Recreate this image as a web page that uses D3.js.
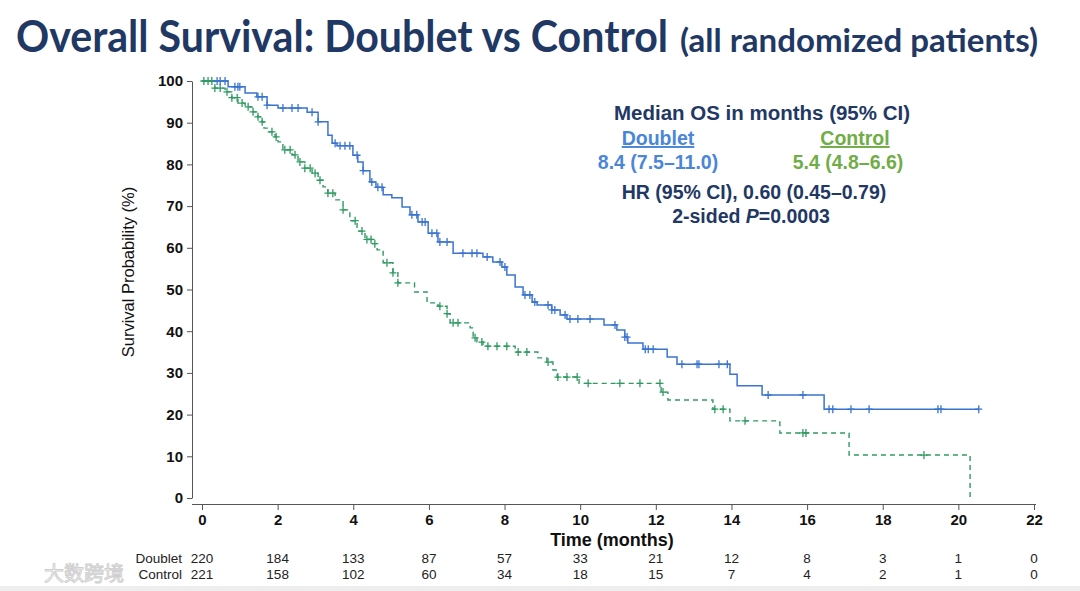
<!DOCTYPE html>
<html>
<head>
<meta charset="utf-8">
<script src="https://cdn.jsdelivr.net/npm/d3@7"></script>
<style>
  body { margin: 0; background: #fff; }
  svg { display: block; }
  .tick text { font-family: "Liberation Sans", Arial, sans-serif; font-weight: bold; font-size: 15px; fill: #111; }
  .tick line, .domain { stroke: #555; }
</style>
</head>
<body>
<svg id="km" width="1080" height="591"></svg>
<script>
// step points: time (months), survival (%) after the drop
var doubletTimes = [0.69, 1.14, 1.45, 1.72, 2.01, 2.78, 3.07, 3.33, 3.44, 3.57, 3.99, 4.12, 4.26, 4.44, 4.6, 4.79, 5.02, 5.29, 5.5, 5.71, 5.98, 6.24, 6.64, 7.43, 7.69, 7.93, 8.06, 8.28, 8.49, 8.73, 8.86, 9.25, 9.47, 9.65, 10.63, 10.97, 11.18, 11.26, 11.66, 12.3, 12.56, 13.96, 14.15, 14.81, 16.45]
var doubletSurv = [98.6, 97.1, 96.2, 94.2, 93.5, 92.5, 90.2, 87.0, 85.1, 84.5, 82.2, 80.6, 78.5, 75.8, 74.5, 72.7, 72.0, 69.8, 67.9, 66.2, 63.5, 61.4, 58.7, 57.8, 56.6, 55.4, 53.5, 50.6, 48.7, 47.0, 46.3, 45.1, 43.9, 42.9, 41.5, 40.3, 38.6, 37.2, 35.7, 33.8, 32.1, 29.7, 26.9, 24.7, 21.3]
var doubletEnd = 20.54
var doubletCensor = [0.40, 0.48, 0.61, 0.87, 0.95, 1.00, 1.48, 1.59, 1.72, 2.14, 2.38, 2.54, 2.91, 3.07, 3.52, 3.65, 3.78, 3.91, 4.10, 4.26, 4.49, 4.65, 4.76, 5.55, 5.68, 5.82, 5.90, 6.08, 6.21, 6.29, 6.48, 6.90, 7.14, 7.27, 7.54, 7.88, 8.01, 8.54, 8.67, 8.80, 9.15, 9.25, 9.33, 9.60, 9.73, 9.94, 10.26, 10.92, 11.18, 11.24, 11.72, 11.80, 11.93, 12.69, 13.09, 13.14, 13.67, 13.89, 14.97, 15.89, 16.58, 16.68, 17.16, 17.64, 19.46, 19.54, 20.54]

var controlTimes = [0.34, 0.61, 0.79, 0.95, 1.14, 1.32, 1.48, 1.59, 1.64, 1.75, 1.93, 2.01, 2.14, 2.38, 2.54, 2.72, 2.91, 3.07, 3.2, 3.33, 3.52, 3.73, 3.91, 4.1, 4.31, 4.49, 4.63, 4.79, 5.05, 5.18, 5.62, 5.95, 6.24, 6.48, 6.56, 7.09, 7.17, 7.27, 7.43, 8.28, 8.88, 9.12, 9.28, 9.39, 9.97, 12.14, 12.32, 13.51, 13.96, 15.28, 17.11, 20.31]
var controlSurv = [98.3, 97.4, 96.0, 94.7, 93.8, 92.6, 91.4, 90.2, 88.7, 87.8, 86.6, 85.4, 83.5, 82.3, 80.6, 79.1, 77.9, 76.2, 74.6, 73.1, 71.5, 69.1, 66.5, 64.0, 62.0, 61.0, 59.5, 56.4, 54.0, 51.6, 49.4, 46.8, 46.0, 44.2, 42.0, 40.8, 38.4, 37.4, 36.4, 35.0, 33.6, 32.6, 30.7, 29.0, 27.5, 25.4, 23.5, 21.3, 18.5, 15.6, 10.3, 0]
var controlEnd = 20.31
var controlCensor = [0.05, 0.16, 0.26, 0.34, 0.48, 0.66, 0.79, 0.93, 1.06, 1.22, 1.35, 1.48, 1.59, 1.85, 1.96, 2.19, 2.33, 2.46, 2.59, 2.72, 2.86, 2.99, 3.12, 3.33, 3.46, 3.73, 4.05, 4.23, 4.36, 4.47, 4.57, 4.89, 5.05, 5.18, 6.29, 6.48, 6.64, 6.77, 7.22, 7.40, 7.56, 7.80, 8.06, 8.36, 8.59, 9.15, 9.41, 9.65, 9.92, 10.21, 11.05, 11.58, 12.11, 12.19, 13.56, 13.78, 14.36, 15.89, 15.97, 19.09]

var xTicks = [0, 2, 4, 6, 8, 10, 12, 14, 16, 18, 20, 22]
var yTicks = [0, 10, 20, 30, 40, 50, 60, 70, 80, 90, 100]
var riskDoublet = [220, 184, 133, 87, 57, 33, 21, 12, 8, 3, 1, 0]
var riskControl = [221, 158, 102, 60, 34, 18, 15, 7, 4, 2, 1, 0]

var blue = "#3a74d0"
var green = "#2f9a62"
var navy = "#1f3864"

var svg = d3.select("#km")

var xScale = d3.scaleLinear().domain([0, 22]).range([202, 1034])
var yScale = d3.scaleLinear().domain([0, 100]).range([498, 81])

// title
var title = svg.append("text")
  .attr("x", 16).attr("y", 52)
  .style("font-family", "Lato, 'Open Sans', sans-serif")
  .style("font-weight", "bold")
  .style("fill", navy)
title.append("tspan")
  .style("font-size", "44px")
  .attr("textLength", 652).attr("lengthAdjust", "spacingAndGlyphs")
  .text("Overall Survival: Doublet vs Control")
title.append("tspan")
  .attr("x", 680)
  .style("font-size", "32px")
  .attr("textLength", 358).attr("lengthAdjust", "spacingAndGlyphs")
  .text("(all randomized patients)")

// axes
var yAxisGen = d3.axisLeft(yScale).tickValues(yTicks).tickSize(5).tickSizeOuter(0).tickPadding(4)
svg.append("g")
  .attr("transform", "translate(192,0)")
  .call(yAxisGen)

var xAxisGen = d3.axisBottom(xScale).tickValues(xTicks).tickSize(6).tickSizeOuter(0).tickPadding(4)
var xAxis = svg.append("g")
  .attr("transform", "translate(0,504)")
  .call(xAxisGen)
xAxis.select(".domain").attr("d", "M192,0.5H1036")

svg.append("text")
  .attr("transform", "translate(134,272) rotate(-90)")
  .attr("text-anchor", "middle")
  .style("font-family", "'Liberation Sans', Arial, sans-serif")
  .style("font-size", "16.5px")
  .style("fill", "#111")
  .text("Survival Probability (%)")

svg.append("text")
  .attr("x", 612).attr("y", 546)
  .attr("text-anchor", "middle")
  .style("font-family", "'Liberation Sans', Arial, sans-serif")
  .style("font-weight", "bold")
  .style("font-size", "18px")
  .style("fill", "#111")
  .text("Time (months)")

// curves
function stepPoints(times, surv, end) {
  var pts = [[0, 100]]
  times.forEach((t, i) => pts.push([t, surv[i]]))
  pts.push([end, surv[surv.length - 1]])
  return pts
}
function survAt(times, surv, t) {
  var s = 100
  for (var i = 0; i < times.length; i++) { if (times[i] <= t) s = surv[i] }
  return s
}

var line = d3.line()
  .x(d => xScale(d[0]))
  .y(d => yScale(d[1]))
  .curve(d3.curveStepAfter)

svg.append("path")
  .datum(stepPoints(controlTimes, controlSurv, controlEnd))
  .attr("d", line)
  .attr("fill", "none")
  .attr("stroke", green)
  .attr("stroke-width", 1.4)
  .attr("stroke-dasharray", "5,4")

svg.append("path")
  .datum(stepPoints(doubletTimes, doubletSurv, doubletEnd))
  .attr("d", line)
  .attr("fill", "none")
  .attr("stroke", blue)
  .attr("stroke-width", 1.5)

function drawCensor(list, times, surv, color) {
  svg.append("g")
    .selectAll("path")
    .data(list)
    .enter().append("path")
    .attr("transform", d => "translate(" + xScale(d) + "," + yScale(survAt(times, surv, d)) + ")")
    .attr("d", "M0,-4V4M-3.5,0H3.5")
    .attr("stroke", color)
    .attr("stroke-width", 1.3)
}
drawCensor(controlCensor, controlTimes, controlSurv, green)
drawCensor(doubletCensor, doubletTimes, doubletSurv, blue)

// legend text
var legend = svg.append("g")
  .style("font-family", "'Liberation Sans', Arial, sans-serif")
  .style("font-weight", "bold")
  .style("font-size", "19.5px")
  .attr("text-anchor", "middle")
legend.append("text").attr("x", 762).attr("y", 120).style("fill", navy)
  .attr("textLength", 296).attr("lengthAdjust", "spacingAndGlyphs")
  .text("Median OS in months (95% CI)")
legend.append("text").attr("x", 658).attr("y", 145).style("fill", "#4a86d8")
  .style("text-decoration", "underline").text("Doublet")
legend.append("text").attr("x", 855).attr("y", 145).style("fill", "#70ad47")
  .style("text-decoration", "underline").text("Control")
legend.append("text").attr("x", 658).attr("y", 169).style("fill", "#4a86d8").text("8.4 (7.5\u201311.0)")
legend.append("text").attr("x", 848).attr("y", 169).style("fill", "#70ad47").text("5.4 (4.8\u20136.6)")
legend.append("text").attr("x", 754).attr("y", 199).style("fill", navy).text("HR (95% CI), 0.60 (0.45\u20130.79)")
var pText = legend.append("text").attr("x", 751).attr("y", 223).style("fill", navy)
pText.append("tspan").text("2-sided ")
pText.append("tspan").style("font-style", "italic").text("P")
pText.append("tspan").text("=0.0003")

// number at risk
var risk = svg.append("g")
  .style("font-family", "'Liberation Sans Narrow', 'Liberation Sans', Arial, sans-serif")
  .style("font-size", "13.5px")
  .style("fill", "#222")
risk.append("text").attr("x", 182).attr("y", 563).attr("text-anchor", "end").text("Doublet")
risk.append("text").attr("x", 182).attr("y", 579).attr("text-anchor", "end").text("Control")
risk.selectAll(".rd").data(riskDoublet).enter().append("text")
  .attr("x", (d, i) => xScale(xTicks[i])).attr("y", 563).attr("text-anchor", "middle").text(d => d)
risk.selectAll(".rc").data(riskControl).enter().append("text")
  .attr("x", (d, i) => xScale(xTicks[i])).attr("y", 579).attr("text-anchor", "middle").text(d => d)

// watermark
svg.append("text")
  .attr("x", 44).attr("y", 581)
  .style("font-family", "'Noto Sans CJK SC', sans-serif")
  .style("font-size", "20px")
  .style("fill", "none")
  .style("stroke", "#cfcfcf")
  .style("stroke-width", 1)
  .text("大数跨境")

svg.append("rect").attr("x", 0).attr("y", 586).attr("width", 1080).attr("height", 5).attr("fill", "#eeeeee")
</script>
</body>
</html>
